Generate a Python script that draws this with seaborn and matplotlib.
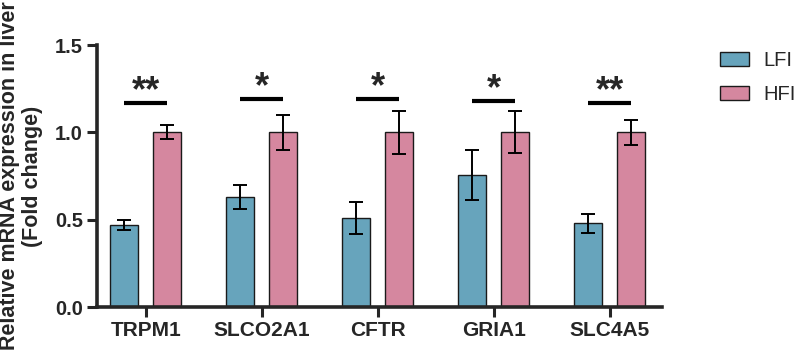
"""qPCR fold change in liver, LFI vs HFI, with significance bars."""
import numpy as np
import pandas as pd
import matplotlib
matplotlib.use("Agg")
import matplotlib.pyplot as plt
import seaborn as sns

genes = ["TRPM1", "SLCO2A1", "CFTR", "GRIA1", "SLC4A5"]
groups = ["LFI", "HFI"]
lfi = [0.47, 0.63, 0.51, 0.755, 0.48]
lfi_err = [0.03, 0.07, 0.09, 0.145, 0.055]
hfi = [1.0, 1.0, 1.0, 1.0, 1.0]
hfi_err = [0.04, 0.10, 0.125, 0.12, 0.07]
sig_labels = ["**", "*", "*", "*", "**"]
sig_y = [1.17, 1.19, 1.19, 1.18, 1.17]

BLUE = "#67A4BC"
PINK = "#D5879F"

sns.set_style("ticks")
plt.rcParams["font.family"] = ["Liberation Sans", "DejaVu Sans"]

df = pd.DataFrame({
    "gene": genes * 2,
    "group": ["LFI"] * len(genes) + ["HFI"] * len(genes),
    "value": lfi + hfi,
})
errs = {"LFI": lfi_err, "HFI": hfi_err}

fig = plt.figure(figsize=(7.97, 3.52), dpi=100)
ax = fig.add_axes([0.1217, 0.1278, 0.709, 0.7442])

sns.barplot(data=df, x="gene", y="value", hue="group", order=genes, hue_order=groups,
            palette=[BLUE, PINK], width=0.74, gap=0.35, errorbar=None,
            edgecolor="#1a1a1a", linewidth=1.0, saturation=1, ax=ax)

# error bars on top of the bars (positions taken from the drawn patches)
centers = {}
for cont, g in zip(ax.containers, groups):
    xs = [p.get_x() + p.get_width() / 2 for p in cont]
    ys = [p.get_height() for p in cont]
    centers[g] = xs
    ax.errorbar(xs, ys, yerr=errs[g], fmt="none", ecolor="black",
                elinewidth=1.4, capsize=5, capthick=1.4, zorder=3)

# significance bars
for i, lab in enumerate(sig_labels):
    x0, x1 = centers["LFI"][i], centers["HFI"][i]
    ax.plot([x0, x1], [sig_y[i], sig_y[i]], color="black", lw=3, solid_capstyle="butt")
    ax.text((x0 + x1) / 2, sig_y[i] - 0.035, lab, ha="center", va="bottom",
            fontsize=26, fontweight="bold")

ax.set_ylim(0, 1.5)
ax.set_xlim(-0.42, 4.45)
ax.set_yticks([0, 0.5, 1.0, 1.5])
ax.set_yticklabels(["0.0", "0.5", "1.0", "1.5"])
ax.set_xlabel("")
ax.set_ylabel("Relative mRNA expression in liver\n(Fold change)", fontsize=15.5,
              fontweight="bold", labelpad=9, linespacing=1.1)
sns.despine(ax=ax)
for s in ["left", "bottom"]:
    ax.spines[s].set_linewidth(2.6)
ax.tick_params(axis="both", width=2.2, length=7, pad=3)
ax.tick_params(axis="x", labelsize=15)
ax.tick_params(axis="y", labelsize=14.5)
for t in ax.get_xticklabels() + ax.get_yticklabels():
    t.set_fontweight("bold")

handles, labels = ax.get_legend_handles_labels()
ax.legend_.remove()
fig.legend(handles, labels, loc="upper left", bbox_to_anchor=(0.9034, 0.855),
           frameon=False, fontsize=14.5, handlelength=1.45, handleheight=0.75,
           handletextpad=0.7, labelspacing=0.75, borderpad=0, borderaxespad=0)

fig.savefig("out.png", dpi=100)
